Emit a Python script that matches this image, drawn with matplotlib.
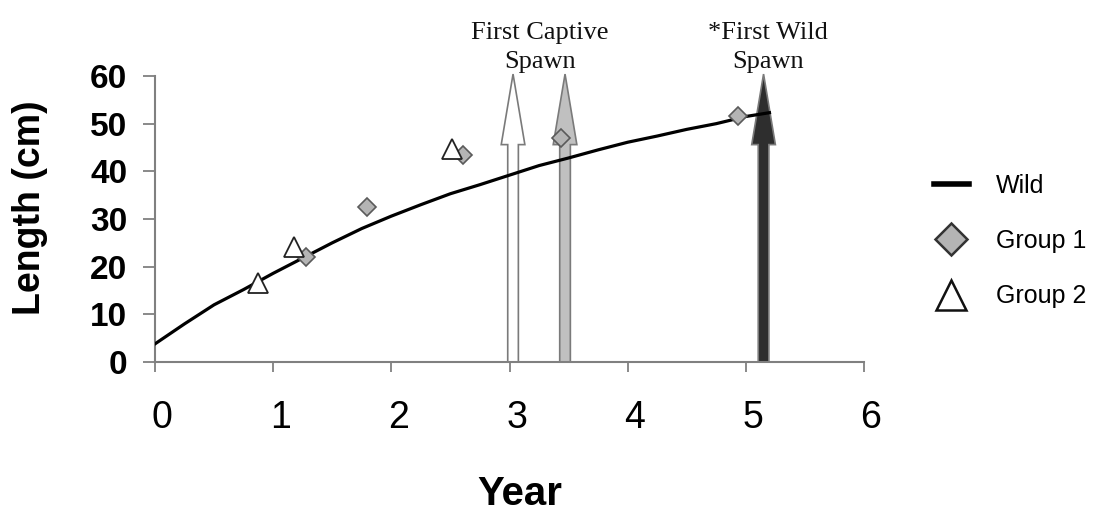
import matplotlib.pyplot as plt
import matplotlib.transforms as mtransforms
from matplotlib.lines import Line2D

# Wild growth curve
wild_year = [0.0, 0.25, 0.5, 0.75, 1.0, 1.25, 1.5, 1.75, 2.0, 2.25, 2.5, 2.75,
             3.0, 3.25, 3.5, 3.75, 4.0, 4.25, 4.5, 4.75, 5.0, 5.2]
wild_len = [3.8, 8.0, 12.0, 15.2, 18.6, 21.8, 25.0, 28.0, 30.6, 33.0, 35.3, 37.2,
            39.2, 41.2, 42.8, 44.5, 46.1, 47.4, 48.8, 50.0, 51.5, 52.3]

# Group 1 (diamonds)
g1_year = [1.28, 1.79, 2.61, 3.44, 4.93]
g1_len = [22.1, 32.5, 43.4, 47.0, 51.6]

# Group 2 (triangles)
g2_year = [0.87, 1.18, 2.51]
g2_len = [16.5, 24.1, 44.6]

# Spawn arrows
arrow_year = [3.03, 3.47, 5.15]
arrow_color = ['white', '#c0c0c0', '#2e2e2e']
arrow_top = 60.4

fig = plt.figure(figsize=(10.97, 5.12), dpi=100)
ax = fig.add_axes([0.1413, 0.293, 0.6463, 0.5586])

# arrows
for x, c in zip(arrow_year, arrow_color):
    ax.arrow(x, 0, 0, arrow_top, width=0.09, head_width=0.2, head_length=14.8,
             length_includes_head=True, facecolor=c, edgecolor='#7a7a7a',
             linewidth=1.2, clip_on=False, zorder=2)

ax.plot(wild_year, wild_len, color='black', lw=2.3, zorder=3)
ax.plot(g1_year, g1_len, linestyle='none', marker='D', markersize=9.5,
        markerfacecolor='#b4b4b4', markeredgecolor='#5a5a5a', markeredgewidth=1.2,
        zorder=4)
ax.plot(g2_year, g2_len, linestyle='none', marker='^', markersize=14,
        markerfacecolor='white', markeredgecolor='#222222', markeredgewidth=1.3,
        zorder=4)

# annotations
ax.text(3.26, 60.6, 'First Captive\nSpawn', ha='center', va='bottom',
        family='Liberation Serif', fontsize=19, linespacing=1.4, color='#111111')
ax.text(5.19, 60.6, '*First Wild\nSpawn', ha='center', va='bottom',
        family='Liberation Serif', fontsize=19, linespacing=1.4, color='#111111')

ax.set_xlim(0, 6)
ax.set_ylim(0, 60)
ax.set_xticks(range(0, 7))
ax.set_yticks(range(0, 61, 10))

for s in ['top', 'right']:
    ax.spines[s].set_visible(False)
for s in ['left', 'bottom']:
    ax.spines[s].set_color('#808080')
    ax.spines[s].set_linewidth(1.5)

ax.tick_params(axis='x', direction='out', length=7.5, width=1.3, color='#808080',
               pad=20, labelsize=27)
ax.tick_params(axis='y', direction='out', length=9, width=1.3, color='#808080',
               pad=11, labelsize=24)
for lab in ax.get_xticklabels():
    lab.set_family('Liberation Sans')
for lab in ax.get_yticklabels():
    lab.set_family('Liberation Sans')
    lab.set_fontweight('bold')

# x tick labels sit a little right of their ticks
offset = mtransforms.ScaledTranslation(7 / 100, 0, fig.dpi_scale_trans)
for lab in ax.get_xticklabels():
    lab.set_transform(lab.get_transform() + offset)

ax.set_xlabel('Year', family='Liberation Sans', fontsize=29, fontweight='bold')
ax.set_ylabel('Length (cm)', family='Liberation Sans', fontsize=27, fontweight='bold')
ax.xaxis.set_label_coords(0.515, -0.395)
ax.yaxis.set_label_coords(-0.151, 0.54)

handles = [
    Line2D([], [], color='black', lw=4),
    Line2D([], [], linestyle='none', marker='D', markersize=16,
           markerfacecolor='#b4b4b4', markeredgecolor='#333333', markeredgewidth=1.8),
    Line2D([], [], linestyle='none', marker='^', markersize=22,
           markerfacecolor='white', markeredgecolor='#111111', markeredgewidth=1.8),
]
ax.legend(handles, ['Wild', 'Group 1', 'Group 2'], loc='upper left',
          bbox_to_anchor=(0.842, 0.68), bbox_transform=fig.transFigure,
          frameon=False, prop={'family': 'Liberation Sans', 'size': 18},
          handlelength=1.4, handletextpad=1.1, labelspacing=1.25, borderaxespad=0)

fig.savefig('out.png', dpi=100, facecolor='white')
